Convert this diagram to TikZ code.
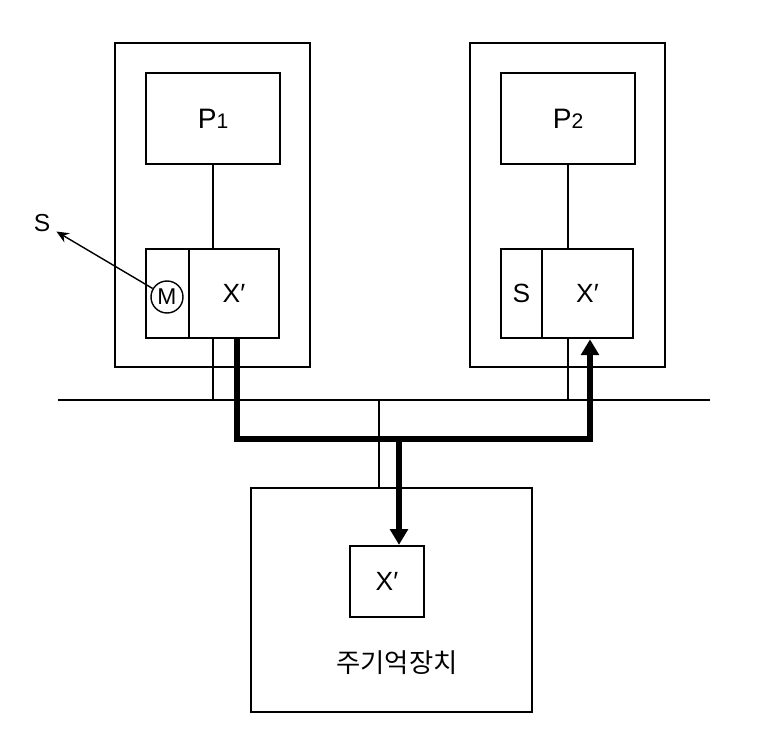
\documentclass[tikz,border=0pt]{standalone}
\usepackage{fontspec}
\setmainfont{Liberation Sans}
\newfontfamily\korfont{Noto Sans CJK KR}
\usetikzlibrary{arrows.meta,positioning,calc}

\begin{document}
\begin{tikzpicture}[x=0.02cm, y=-0.02cm,
    pebox/.style={draw, line width=0.8pt, minimum width=3.9cm, minimum height=6.48cm},
    cpubox/.style={draw, line width=1.5pt, minimum width=2.68cm, minimum height=1.82cm,
                font=\fontsize{16}{18}\selectfont},
    tagbox/.style={draw, line width=1.5pt, minimum height=1.78cm, inner sep=0pt,
                font=\fontsize{15}{17}\selectfont},
    databox/.style={draw, line width=1.5pt, minimum width=1.8cm, minimum height=1.78cm,
                font=\fontsize{15}{17}\selectfont},
    thinline/.style={line width=1pt},
    buspath/.style={line width=3.4pt, -{Triangle[length=9pt,width=10pt]}}
  ]
    \useasboundingbox (0,0) rectangle (778,740);

    % processor 1
    \node[pebox] (pe1) at (212.5,205) {};
    \node[cpubox] (p1) at (213,118.5) {P{\fontsize{12}{14}\selectfont 1}};
    \node[tagbox, minimum width=0.86cm] (tag1) at (167.5,293.5) {};
    \node[databox] (data1) at (234,293.5) {X′};
    \node[draw, circle, line width=0.8pt, minimum size=0.64cm, inner sep=0pt,
          font=\fontsize{13}{15}\selectfont] (mflag) at (167,297) {M};
    \node[font=\fontsize{14}{16}\selectfont] (sflag) at (42,223) {S};
    \draw[line width=0.8pt, -{Stealth[length=7pt,width=6pt]}] (mflag) -- (sflag);

    % processor 2
    \node[pebox] (pe2) at (567.5,205) {};
    \node[cpubox] (p2) at (568,118.5) {P{\fontsize{12}{14}\selectfont 2}};
    \node[tagbox, minimum width=0.82cm] (tag2) at (521.5,293.5) {S};
    \node[databox, minimum width=1.82cm] (data2) at (587.5,293.5) {X′};

    % bus
    \coordinate (busL) at (58,400);
    \coordinate (busR) at (710,400);
    \draw[line width=1.6pt] (busL) -- (busR);

    % main memory
    \node[draw, line width=1.5pt, minimum width=5.62cm, minimum height=4.48cm] (mem) at (391.5,600) {};
    \node[draw, line width=1.3pt, minimum width=1.48cm, minimum height=1.42cm,
          font=\fontsize{15}{17}\selectfont] (memx) at (387,581.5) {X′};
    \node[font=\korfont\fontsize{15}{17}\selectfont] (memlabel) at (397,663) {주기억장치};

    % thin links
    \draw[thinline] (p1.south) -- (p1.south |- data1.north);
    \draw[thinline] (p1.south |- data1.south) -- (p1.south |- busL);
    \draw[thinline] (p2.south) -- (p2.south |- data2.north);
    \draw[thinline] (p2.south |- data2.south) -- (p2.south |- busL);
    \coordinate (memtap) at (379,400);
    \draw[thinline] (memtap) -- (memtap |- mem.north);

    % write-back path
    \coordinate (junc) at (399,439);
    \draw[buspath] ([xshift=0.06cm]data1.south) |- (junc) -| ([xshift=0.05cm]data2.south);
    \draw[buspath] (junc) -- (junc |- memx.north);
  \end{tikzpicture}
\end{document}
